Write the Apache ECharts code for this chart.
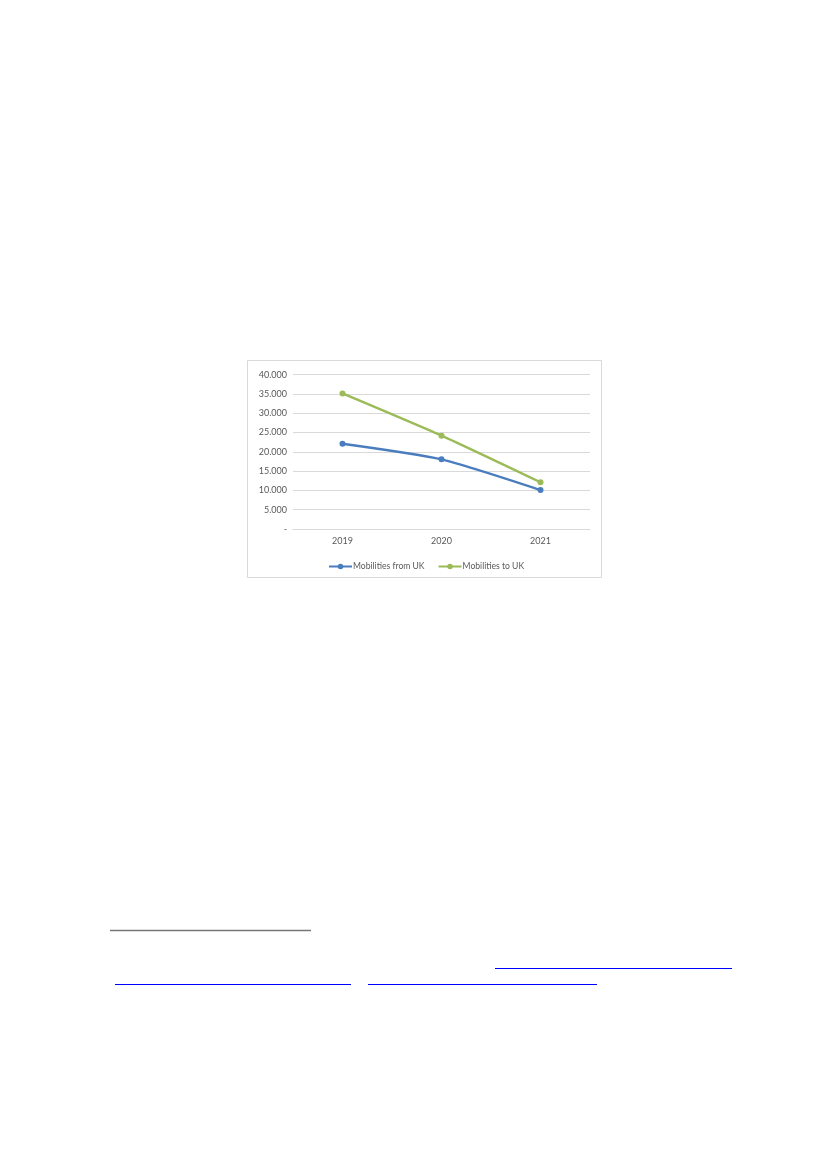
<!DOCTYPE html>
<html>
<head>
<meta charset="utf-8">
<script src="https://cdn.jsdelivr.net/npm/echarts@6/dist/echarts.min.js"></script>
<style>
html,body{margin:0;padding:0;background:#fff;}
#c{width:827px;height:1169px;}
</style>
</head>
<body>
<div id="c"></div>
<script>
var years = ['2019', '2020', '2021'];
var mobilitiesFromUK = [22100, 18050, 10100];
var mobilitiesToUK = [35150, 24200, 12100];
var yTicks = [0, 5000, 10000, 15000, 20000, 25000, 30000, 35000, 40000];

function fmt(v) {
  if (v === 0) return '-';
  var s = String(Math.round(v));
  return s.replace(/\B(?=(\d{3})+(?!\d))/g, '.');
}

var chart = echarts.init(document.getElementById('c'), null, {renderer: 'canvas'});
var font = 'Lato, "Open Sans", sans-serif';
chart.setOption({
  animation: false,
  backgroundColor: '#ffffff',
  graphic: [
    {type: 'rect', shape: {x: 247.5, y: 360.5, width: 354, height: 217}, style: {fill: 'none', stroke: '#D9D9D9', lineWidth: 1}},
    {type: 'line', shape: {x1: 110, y1: 930.5, x2: 311, y2: 930.5}, style: {stroke: '#777777', lineWidth: 1.5}},
    {type: 'line', shape: {x1: 495, y1: 968.5, x2: 732, y2: 968.5}, style: {stroke: '#0000FF', lineWidth: 1}},
    {type: 'line', shape: {x1: 115, y1: 984.5, x2: 351, y2: 984.5}, style: {stroke: '#0000FF', lineWidth: 1}},
    {type: 'line', shape: {x1: 368, y1: 984.5, x2: 597, y2: 984.5}, style: {stroke: '#0000FF', lineWidth: 1}}
  ],
  grid: {left: 293, right: 237, top: 374.7, bottom: 640, containLabel: false},
  legend: {
    data: ['Mobilities from UK', 'Mobilities to UK'],
    left: 323,
    top: 557,
    itemWidth: 23,
    itemHeight: 7,
    itemGap: 13,
    textStyle: {color: '#595959', fontSize: 8.6, fontFamily: font, padding: [0, 0, 0, -4]}
  },
  xAxis: {
    type: 'category',
    data: years,
    boundaryGap: true,
    axisLine: {show: true, lineStyle: {color: '#D9D9D9', width: 1}},
    axisTick: {show: false},
    axisLabel: {color: '#595959', fontSize: 9, fontFamily: font, margin: 8}
  },
  yAxis: {
    type: 'value',
    min: 0,
    max: 40000,
    interval: 5000,
    axisLine: {show: false},
    axisTick: {show: false},
    splitLine: {lineStyle: {color: '#D9D9D9', width: 1}},
    axisLabel: {color: '#595959', fontSize: 9, fontFamily: font, margin: 6,
      formatter: function (v) { return yTicks.indexOf(v) >= 0 ? fmt(v) : ''; }}
  },
  series: [
    {
      name: 'Mobilities from UK',
      type: 'line',
      data: mobilitiesFromUK,
      smooth: 0.2,
      symbol: 'circle',
      symbolSize: 6,
      lineStyle: {color: '#4A7DBE', width: 2.3},
      itemStyle: {color: '#4A7DBE'}
    },
    {
      name: 'Mobilities to UK',
      type: 'line',
      data: mobilitiesToUK,
      smooth: 0.2,
      symbol: 'circle',
      symbolSize: 6,
      lineStyle: {color: '#9BBB59', width: 2.3},
      itemStyle: {color: '#9BBB59'}
    }
  ]
});
</script>
</body>
</html>
